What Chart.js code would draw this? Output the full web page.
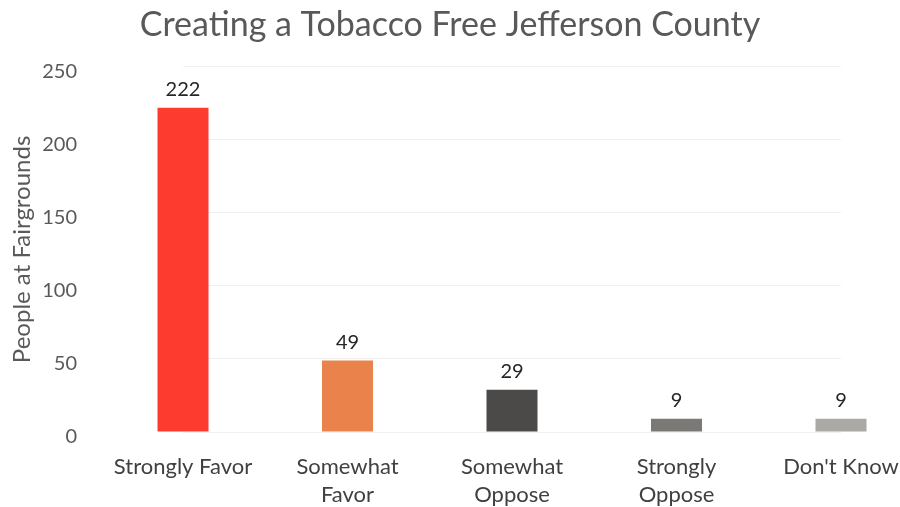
<!DOCTYPE html>
<html>
<head>
<meta charset="utf-8">
<script src="https://cdn.jsdelivr.net/npm/chart.js@4/dist/chart.umd.min.js"></script>
<style>
  html, body { margin: 0; padding: 0; background: #fff; }
  #wrap { width: 900px; height: 507px; position: relative; }
</style>
</head>
<body>
<div id="wrap"><canvas id="myChart"></canvas></div>
<script>
const categories = [
  "Strongly Favor",
  ["Somewhat", "Favor"],
  ["Somewhat", "Oppose"],
  ["Strongly", "Oppose"],
  "Don't Know"
];
const counts = [222, 49, 29, 9, 9];
const barColors = ["#fd3b2e", "#e9834b", "#4b4a48", "#7b7976", "#aba9a4"];
const yTicks = [0, 50, 100, 150, 200, 250];

// draws the number above each bar
const valueLabels = {
  id: "valueLabels",
  afterDatasetsDraw(chart) {
    const ctx = chart.ctx;
    const meta = chart.getDatasetMeta(0);
    ctx.save();
    ctx.font = "20px Lato";
    ctx.fillStyle = "#262626";
    ctx.textAlign = "center";
    ctx.textBaseline = "middle";
    meta.data.forEach((bar, i) => {
      ctx.fillText(String(counts[i]), bar.x, bar.y - 18);
    });
    ctx.restore();
  }
};

const myChartRef = document.getElementById("myChart").getContext("2d");

new Chart(myChartRef, {
  type: "bar",
  data: {
    labels: categories,
    datasets: [
      {
        label: "People at Fairgrounds",
        data: counts,
        backgroundColor: barColors,
        borderWidth: 0,
        barPercentage: 0.31,
        categoryPercentage: 1.0,
        clip: false
      }
    ]
  },
  options: {
    responsive: true,
    maintainAspectRatio: false,
    animation: false,
    layout: {
      padding: 0
    },
    plugins: {
      legend: { display: false },
      tooltip: { enabled: false },
      title: {
        display: true,
        text: "Creating a Tobacco Free Jefferson County",
        color: "#595959",
        font: { family: "Lato", size: 34, weight: "normal" },
        padding: { top: 5, bottom: 21 }
      }
    },
    scales: {
      x: {
        offset: false,
        afterFit(scale) {
          scale.height = 75;
          scale.paddingLeft = 0;
          scale.paddingRight = 59;
        },
        grid: { display: false, drawTicks: false },
        border: { display: false },
        ticks: {
          color: "#404040",
          font: { family: "Lato", size: 22, lineHeight: 1.27 },
          padding: 21,
          maxRotation: 0,
          autoSkip: false
        }
      },
      y: {
        min: yTicks[0],
        max: yTicks[yTicks.length - 1],
        afterFit(scale) {
          scale.width = 183;
          scale.paddingTop = 12;
          scale.paddingBottom = 12;
        },
        afterBuildTicks(scale) { scale.ticks = yTicks.map(v => ({ value: v })); },
        grid: { color: "#f0f0f0", drawTicks: false },
        border: { display: false },
        ticks: {
          color: "#595959",
          font: { family: "Lato", size: 20 },
          padding: 106,
          labelOffset: 5
        },
        title: {
          display: true,
          text: "People at Fairgrounds",
          color: "#595959",
          font: { family: "Lato", size: 24, weight: "normal" },
          padding: { top: 8, bottom: 0 }
        }
      }
    }
  },
  plugins: [valueLabels]
});
</script>
</body>
</html>
